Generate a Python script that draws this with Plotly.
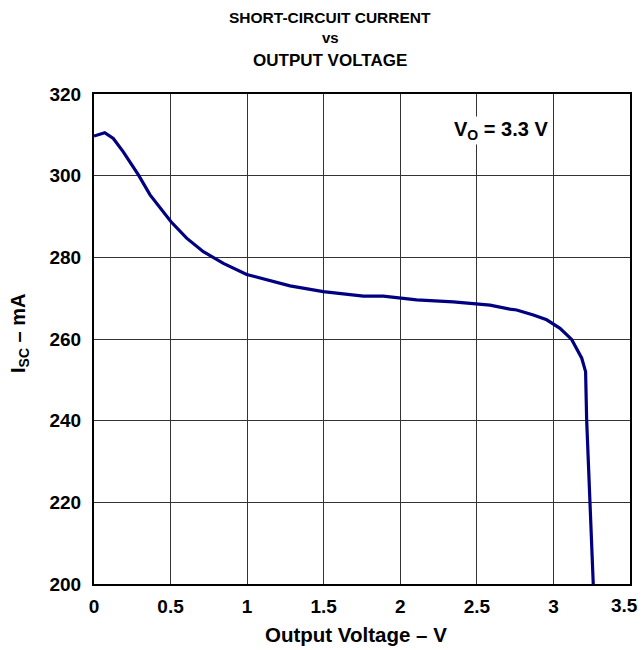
import plotly.graph_objs as go

########### Data ######

voltage = [0.0, 0.07, 0.126, 0.19, 0.29, 0.366, 0.503, 0.605, 0.714, 0.845,
           0.997, 1.149, 1.28, 1.497, 1.759, 1.889, 2.107, 2.346, 2.586,
           2.716, 2.76, 2.869, 2.956, 3.043, 3.119, 3.185, 3.21, 3.217,
           3.239, 3.26]
current_ma = [309.7, 310.5, 309.1, 305.9, 300.2, 295.3, 288.7, 284.7, 281.4, 278.5,
              275.8, 274.2, 273.0, 271.6, 270.5, 270.5, 269.6, 269.1, 268.3,
              267.3, 267.1, 265.9, 264.7, 262.6, 259.9, 255.3, 252.0, 240.2,
              219.8, 200.0]

x_ticks = [0, 0.5, 1, 1.5, 2, 2.5, 3, 3.5]
y_ticks = [200, 220, 240, 260, 280, 300, 320]

FONT = 'Liberation Sans, Arial, sans-serif'

# plot box in page pixels
PL, PR, PT, PB = 94, 630, 94, 584
W, H = 642, 650


def px(x):
    return (x - PL) / (PR - PL)


def py(y):
    return (PB - y) / (PB - PT)


########### Figure ######

fig = go.Figure()
fig.add_trace(go.Scatter(x=voltage, y=current_ma, mode='lines',
                         line=dict(color='#000080', width=3.2), showlegend=False,
                         hoverinfo='skip'))

axis_common = dict(showline=True, linecolor='black', linewidth=2, mirror=True,
                   showgrid=True, gridcolor='#333333', gridwidth=1,
                   zeroline=False, ticks='', fixedrange=True, automargin=False,
                   tickfont=dict(family=FONT, size=19, color='black'))

# last x label sits at the page edge, so it is drawn as an annotation below
x_ticktext = [f'<b>{v:g}</b>' for v in x_ticks[:-1]] + ['']
fig.update_xaxes(range=[0, 3.5], tickvals=x_ticks, ticktext=x_ticktext,
                 ticklabelstandoff=4, **axis_common)
fig.update_yaxes(range=[200, 320], tickvals=y_ticks,
                 ticktext=[f'<b>{v}</b>' for v in y_ticks],
                 ticklabelstandoff=7, **axis_common)

fig.add_annotation(text=f'<b>{x_ticks[-1]:g}</b>', x=x_ticks[-1], xref='x',
                   yref='paper', y=py(605), xanchor='center', yanchor='middle',
                   xshift=-6, showarrow=False,
                   font=dict(family=FONT, size=19, color='black'))

# title, three lines
title_lines = [('<b>SHORT-CIRCUIT CURRENT</b>', 18, 15.5),
               ('<b>vs</b>', 38, 15),
               ('<b>OUTPUT VOLTAGE</b>', 60, 17)]
for txt, ypx, sz in title_lines:
    fig.add_annotation(text=txt, xref='paper', yref='paper',
                       x=px(330), y=py(ypx),
                       xanchor='center', yanchor='middle', showarrow=False,
                       font=dict(family=FONT, size=sz, color='black'))

# axis titles
fig.add_annotation(text='<b>Output Voltage – V</b>', xref='paper', yref='paper',
                   x=px(356), y=py(634), xanchor='center', yanchor='middle',
                   showarrow=False, font=dict(family=FONT, size=20.5, color='black'))
fig.add_annotation(text='<b>I<sub>SC</sub> – mA</b>', xref='paper', yref='paper',
                   x=px(19), y=py(334), xanchor='center', yanchor='middle',
                   textangle=-90, showarrow=False,
                   font=dict(family=FONT, size=20, color='black'))

fig.add_annotation(text='<b>V<sub>O</sub> = 3.3 V</b>', x=2.66, y=311.0,
                   xanchor='center', yanchor='middle', showarrow=False,
                   bgcolor='white', borderpad=1,
                   font=dict(family=FONT, size=20, color='black'))

fig.update_layout(width=W, height=H,
                  margin=dict(l=PL, r=W - PR, t=PT, b=H - PB),
                  plot_bgcolor='white', paper_bgcolor='white',
                  font=dict(family=FONT, color='black'))

# drop the page's default body margin so the figure fills the window
fig.write_html('out.html', config={'displayModeBar': False},
               post_script="document.body.style.margin='0';"
                           "document.body.style.overflow='hidden';")
